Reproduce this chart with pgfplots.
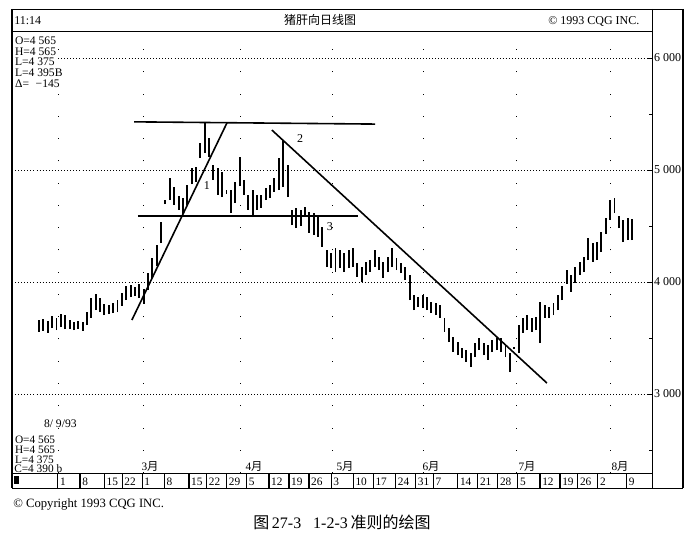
\documentclass[border=0pt]{standalone}
\usepackage{pgfplots}
\pgfplotsset{compat=1.18}
\usepackage{pgfplotstable}
\usepackage{fontspec}
\setmainfont{Liberation Serif}
\newfontfamily\cjk{Noto Sans CJK SC}
\newcommand\ft[1]{\fontsize{#1}{#1}\selectfont}

% daily bars, k = trading day (136 = 8/9/93), h = high, l = low
\pgfplotstableread{
k h l
0 3661 3554
1 3670 3563
2 3652 3545
3 3696 3589
4 3679 3571
5 3714 3598
6 3705 3580
7 3661 3580
8 3643 3571
9 3652 3580
10 3643 3563
11 3732 3616
12 3857 3679
13 3893 3750
14 3857 3732
15 3804 3705
16 3795 3714
17 3813 3723
18 3839 3732
19 3902 3786
20 3964 3839
21 3973 3866
22 3955 3875
23 3982 3857
24 3938 3804
25 4080 3929
26 4214 4036
27 4330 4143
28 4536 4348
29 4732 4696
30 4929 4732
31 4848 4688
32 4768 4643
33 4750 4607
34 4866 4688
35 5018 4875
36 5027 4893
37 5241 5107
38 5420 5152
39 5286 5116
40 5045 4911
41 5018 4777
42 4982 4759
43 4821 4786
44 4821 4616
45 4893 4705
46 5116 4857
47 4911 4777
48 4777 4643
49 4821 4580
50 4777 4643
51 4777 4661
52 4839 4732
53 4866 4750
54 4929 4804
55 5107 4821
56 5268 4848
57 5045 4759
58 4643 4509
59 4661 4482
60 4643 4500
61 4670 4580
62 4625 4438
63 4616 4420
64 4598 4402
65 4491 4313
66 4286 4134
67 4259 4125
68 4304 4089
69 4286 4125
70 4259 4089
71 4286 4125
72 4304 4134
73 4170 4045
74 4134 4000
75 4179 4063
76 4196 4089
77 4286 4134
78 4223 4107
79 4179 4036
80 4223 4089
81 4304 4134
82 4214 4107
83 4170 4080
84 4134 4018
85 4063 3839
86 3884 3750
87 3866 3777
88 3884 3768
89 3866 3750
90 3821 3723
91 3813 3705
92 3795 3679
93 3679 3554
94 3589 3464
95 3509 3375
96 3464 3348
97 3411 3321
98 3393 3286
99 3366 3241
100 3455 3330
101 3500 3393
102 3455 3348
103 3438 3304
104 3482 3375
105 3500 3393
106 3500 3375
107 3438 3330
108 3366 3196
109 3420 3402
110 3616 3366
111 3679 3545
112 3705 3571
113 3679 3554
114 3688 3571
115 3821 3455
116 3795 3679
117 3777 3679
118 3813 3705
119 3884 3750
120 3964 3839
121 4107 3982
122 4063 3911
123 4134 3991
124 4179 4063
125 4223 4089
126 4393 4196
127 4348 4179
128 4357 4196
129 4446 4268
130 4571 4429
131 4732 4554
132 4750 4616
133 4589 4482
134 4554 4357
135 4571 4375
136 4565 4375
}\bars

\begin{document}
\begin{tikzpicture}
\path[use as bounding box] (0pt,0pt) rectangle (519.75pt,405pt);
\begin{axis}[
  at={(9pt,50.25pt)}, anchor=south west,
  scale only axis, width=480pt, height=331.5pt,
  xmin=-6.2, xmax=140.6, ymin=2295, ymax=6241,
  axis line style={line width=0.6pt},
  xtick=\empty,
  extra x ticks={4.4,23.9,46.1,67.4,88.1,109.4,131},
  extra x tick labels={},
  extra x tick style={xmajorgrids=true, major tick length=0pt,
    major grid style={black, line width=0.6pt, dash pattern=on 0.7pt off 16pt}},
  ytick={3000,4000,5000,6000},
  yticklabels={\mbox{3 000},\mbox{4 000},\mbox{5 000},\mbox{6 000}},
  minor ytick={2500,3500,4500,5500},
  ytick pos=right, yticklabel pos=right,
  tick align=inside, major tick length=3pt, minor tick length=2pt,
  tick style={black, line width=0.5pt},
  yticklabel style={font=\ft{9}, xshift=-2pt},
  ymajorgrids,
  major grid style={black, line width=0.6pt, dash pattern=on 0.7pt off 1.6pt},
  clip=false,
]
\addplot[draw=none, mark=none, forget plot,
  error bars/.cd, y dir=plus, y explicit, error mark=none,
  error bar style={draw=black, line width=1.45pt}]
  table[x=k, y=l, y error expr=\thisrow{h}-\thisrow{l}] {\bars};
% trendlines
\addplot[black, line width=1.2pt] coordinates {(21.3,3661) (43.1,5420)};
\addplot[black, line width=1.2pt] coordinates {(21.8,5430) (77.1,5410)};
\addplot[black, line width=1.2pt] coordinates {(22.7,4589) (73.2,4589)};
\addplot[black, line width=1.2pt] coordinates {(53.4,5357) (116.5,3098)};
\node[font=\ft{9}] at (axis cs:38.5,4857) {1};
\node[font=\ft{9}] at (axis cs:59.9,5277) {2};
\node[font=\ft{9}] at (axis cs:66.7,4491) {3};
\end{axis}

\begin{scope}[x=0.75pt, y=-0.75pt, shift={(0pt,405pt)},
  txt/.style={anchor=base west, inner sep=0.6pt, fill=white}]
% frame
\draw[line width=0.6pt] (12,9) -- (683,9);
\draw[line width=0.6pt] (12,488) -- (683,488);
\draw[line width=1.4pt] (12,9) -- (12,488);
\draw[line width=1.9pt] (683,9) -- (683,488);
\draw[line width=0.6pt] (652,9) -- (652,488);
\draw[line width=0.6pt] (12,31) -- (652,31);

% header
\node[anchor=base west, inner sep=0, font=\ft{9}] at (14,25) {11:14};
\node[anchor=base, inner sep=0, font=\ft{9}\cjk] at (320,25) {猪肝向日线图};
\node[anchor=base west, inner sep=0, font=\ft{9}] at (548,25) {© 1993 CQG INC.};

% quote box, top left
\foreach \yy/\tt in {45/O=4 565, 55.5/H=4 565, 66/L=4 375, 76.5/L=4 395B}
  \node[txt, font=\ft{8.7}] at (14,\yy) {\tt};
\node[txt, font=\ft{8.7}] at (14,88) {Δ=\hspace{5pt}−145};

% quote box, bottom left
\node[txt, font=\ft{8.7}] at (43,427) {8/ 9/93};
\foreach \yy/\tt in {443/O=4 565, 453/H=4 565, 463/L=4 375}
  \node[txt, font=\ft{8.5}] at (14,\yy) {\tt};
\node[anchor=base west, inner sep=0, font=\ft{8.5}] at (14,472.5) {C=4 390 b};

% months
\foreach \xx/\mm in {150/3, 254/4, 345/5, 431/6, 527/7, 620/8}
  \node[anchor=base, inner sep=0, font=\ft{8.5}] at (\xx,470) {\mm{\cjk 月}};

% date bar
\fill (14,476) rectangle (19,484);
\foreach \p/\t in {57.8/1, 80/8, 104.4/15, 122.2/22, 142.2/1, 164.4/8, 188.9/15,
  206.7/22, 226.7/29, 246.7/5, 268.9/12, 288.9/19, 308.9/26, 331.1/3, 353.3/10,
  373.3/17, 395.6/24, 415.6/31, 433.3/7, 457.8/14, 477.8/21, 497.8/28, 517.8/5,
  540/12, 560/19, 577.8/26, 597.8/2, 626.7/9} {
  \draw[line width=0.9pt] (\p,473) -- (\p,488);
  \node[anchor=base west, inner sep=0, font=\ft{8.5}] at (\p+2,485) {\t};
}

% below the chart
\node[anchor=base west, inner sep=0, font=\ft{9.5}] at (13,507) {© Copyright 1993 CQG INC.};
\node[anchor=base west, inner sep=0, font=\ft{12}] at (253,528)
  {{\cjk 图}\,27-3\hspace{9pt}1-2-3\,{\cjk 准则的绘图}};
\end{scope}
\end{tikzpicture}
\end{document}
